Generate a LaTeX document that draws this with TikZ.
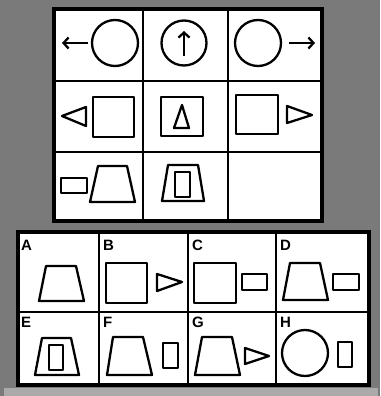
\documentclass[tikz,border=0pt]{standalone}
\usepackage{fontspec}
\setsansfont{Liberation Sans}
\usetikzlibrary{arrows.meta}
\definecolor{bgray}{RGB}{122,122,122}
\definecolor{lgray}{RGB}{170,170,170}
\begin{document}
\begin{tikzpicture}[x=1pt,y=-1pt,
  shp/.style={draw=black,line width=2.3pt,line join=round},
  grid/.style={draw=black,line width=2.8pt},
  arr/.style={draw=black,line width=2.3pt,-{Straight Barb[length=5pt,width=11pt,line width=2.3pt]}},
  lab/.style={font=\sffamily\bfseries\fontsize{15}{15}\selectfont,anchor=north west,inner sep=0pt}]
\useasboundingbox (0,0) rectangle (380,396);
\fill[bgray] (0,0) rectangle (380,396);
\fill[lgray] (4,388) rectangle (378,396);
% top grid
\filldraw[grid,line width=3.2pt,fill=white] (54,9) rectangle (322,221);
\draw[grid] (143,9) -- (143,221) (228,9) -- (228,221) (54,81) -- (322,81) (54,152) -- (322,152);
% row 1
\draw[shp] (115,43) circle (23);
\draw[arr] (88,43) -- (62,43);
\draw[shp] (184,43) circle (22.5);
\draw[arr] (184,56) -- (184,31);
\draw[shp] (258,43) circle (23);
\draw[arr] (289,43) -- (315,43);
% row 2
\draw[shp] (62,116) -- (86,107) -- (86,126) -- cycle;
\draw[shp] (93,97) rectangle (134,137);
\draw[shp] (161,97) rectangle (203,136);
\draw[shp] (182,105) -- (189,128) -- (174,128) -- cycle;
\draw[shp] (236,95) rectangle (278,134);
\draw[shp] (312,115) -- (287,106) -- (287,123) -- cycle;
% row 3
\draw[shp] (61,178) rectangle (87,193);
\draw[shp] (90,202) -- (98,166) -- (127,166) -- (135,202) -- cycle;
\draw[shp] (162,201) -- (168,165) -- (198,165) -- (204,201) -- cycle;
\draw[shp] (175,172) rectangle (190,197);
% answer grid
\filldraw[grid,line width=3.2pt,fill=white] (18,232) rectangle (369,385);
\draw[grid] (99,232) -- (99,385) (188,232) -- (188,385) (276,232) -- (276,385) (18,312) -- (369,312);
\node[lab] (la) at (21,240) {A};
\node[lab] (lb) at (103,240) {B};
\node[lab] (lc) at (192,240) {C};
\node[lab] (ld) at (280,240) {D};
\node[lab] (le) at (21,317) {E};
\node[lab] (lf) at (103,317) {F};
\node[lab] (lg) at (192,317) {G};
\node[lab] (lh) at (280,317) {H};
% A
\draw[shp] (39,301) -- (46,266) -- (76,266) -- (84,301) -- cycle;
% B
\draw[shp] (106,263) rectangle (147,303);
\draw[shp] (182,282) -- (157,274) -- (157,291) -- cycle;
% C
\draw[shp] (194,263) rectangle (236,303);
\draw[shp] (242,274) rectangle (267,290);
% D
\draw[shp] (283,300) -- (290,263) -- (320,263) -- (328,300) -- cycle;
\draw[shp] (333,274) rectangle (359,290);
% E
\draw[shp] (35,375) -- (42,338) -- (71,338) -- (79,375) -- cycle;
\draw[shp] (49,345) rectangle (63,370);
% F
\draw[shp] (107,375) -- (113,337) -- (143,337) -- (152,375) -- cycle;
\draw[shp] (163,343) rectangle (178,368);
% G
\draw[shp] (195,375) -- (202,337) -- (232,337) -- (240,375) -- cycle;
\draw[shp] (269,356) -- (245,348) -- (245,364) -- cycle;
% H
\draw[shp] (305,353) circle (23);
\draw[shp] (338,342) rectangle (352,367);
\end{tikzpicture}
\end{document}
